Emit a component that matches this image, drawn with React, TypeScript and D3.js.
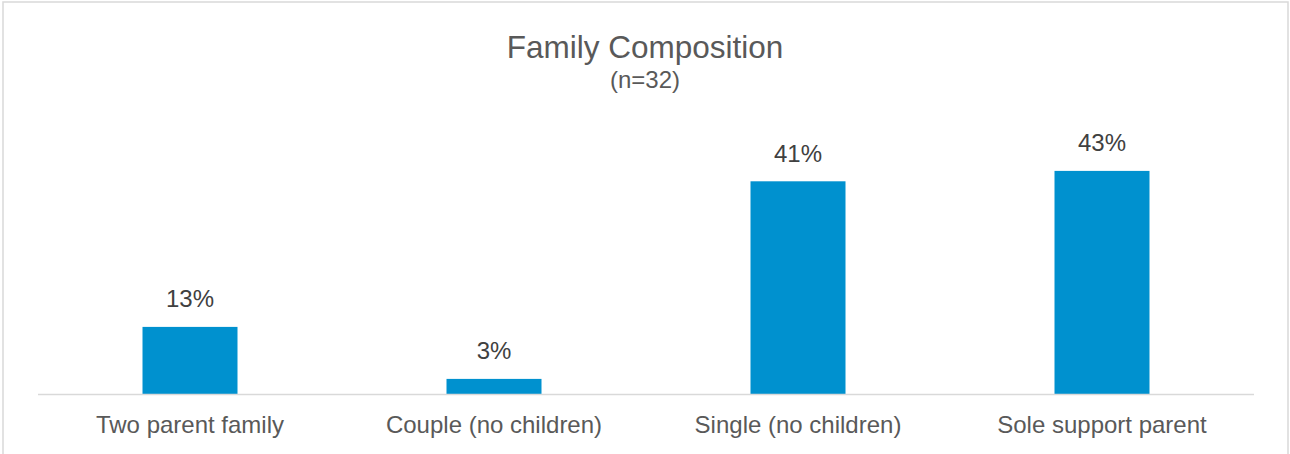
import React from "react";
import * as d3 from "d3";

const categories = ["Two parent family", "Couple (no children)", "Single (no children)", "Sole support parent"];
const values = [13, 3, 41, 43];
const valueLabels = ["13%", "3%", "41%", "43%"];
const title = "Family Composition";
const subtitle = "(n=32)";

const W = 1290;
const H = 454;
const FONT = "'Liberation Sans', Arial, Helvetica, sans-serif";

export default function App() {
  const x = d3.scaleBand<string>().domain(categories).range([38, 1254]).paddingInner(0.6875).paddingOuter(0.34375);
  const y = d3.scaleLinear().domain([0, 50]).range([394.5, 134.5]);
  const bw = x.bandwidth();
  return (
    <svg width={W} height={H} style={{ position: "absolute", left: 0, top: 0, background: "#fff" }} fontFamily={FONT}>
      <rect x={3} y={2} width={1285} height={H + 10} fill="#fff" stroke="#d9d9d9" strokeWidth={1.5} />
      <text x={645} y={58} textAnchor="middle" fontSize={31.5} fill="#595959">{title}</text>
      <text x={645} y={88} textAnchor="middle" fontSize={24} fill="#595959">{subtitle}</text>
      {categories.map((c, i) => (
        <g key={c}>
          <rect x={x(c)!} y={y(values[i])} width={bw} height={y(0) - y(values[i])} fill="#0091cf" />
          <text x={x(c)! + bw / 2} y={y(values[i]) - 19.5} textAnchor="middle" fontSize={24} fill="#404040">{valueLabels[i]}</text>
          <text x={x(c)! + bw / 2} y={433} textAnchor="middle" fontSize={24} fill="#595959">{c}</text>
        </g>
      ))}
      <line x1={38} x2={1254} y1={y(0)} y2={y(0)} stroke="#d9d9d9" strokeWidth={1.5} />
    </svg>
  );
}
